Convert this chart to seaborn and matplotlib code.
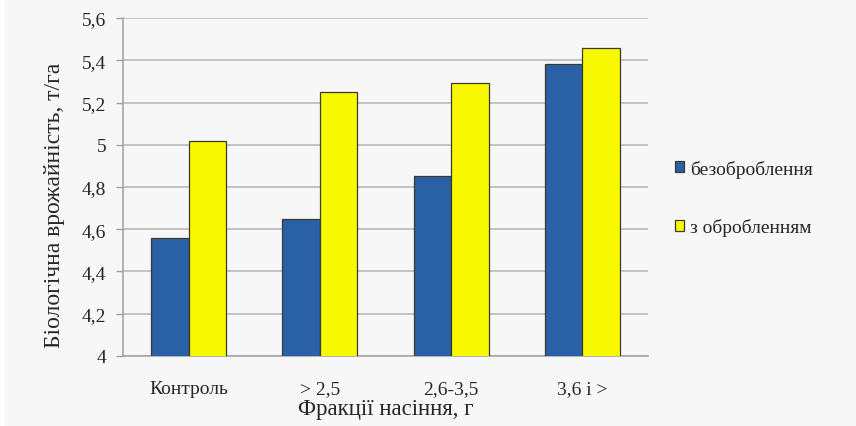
import matplotlib
matplotlib.use("Agg")
import matplotlib.pyplot as plt
from matplotlib.patches import Rectangle
import pandas as pd
import seaborn as sns

categories = ["Контроль", "> 2,5", "2,6-3,5", "3,6 і >"]
series_names = ["безоброблення", "з обробленням"]
untreated = [4.56, 4.65, 4.85, 5.38]
treated = [5.02, 5.25, 5.29, 5.46]
y_ticks = [4.0, 4.2, 4.4, 4.6, 4.8, 5.0, 5.2, 5.4, 5.6]
y_tick_labels = ["4", "4,2", "4,4", "4,6", "4,8", "5", "5,2", "5,4", "5,6"]

df = pd.DataFrame({
    "fraction": categories * 2,
    "series": [series_names[0]] * 4 + [series_names[1]] * 4,
    "yield": untreated + treated,
})

sns.set_style("white")
plt.rcParams["font.family"] = ["Liberation Serif", "DejaVu Serif"]

W, H = 856, 427
fig = plt.figure(figsize=(W / 100, H / 100), dpi=100)
fig.patch.set_facecolor("white")
fig.patches.append(Rectangle((5 / W, 0), (W - 5) / W, 1,
                             transform=fig.transFigure, facecolor="#f7f7f7",
                             edgecolor="none", zorder=-10))

ax = fig.add_axes([123 / W, (H - 357) / H, (648 - 123) / W, (357 - 19) / H])
ax.set_facecolor("#f7f7f7")

palette = {series_names[0]: "#2a60a6", series_names[1]: "#f8f800"}
sns.barplot(data=df, x="fraction", y="yield", hue="series", order=categories,
            hue_order=series_names, palette=palette, width=0.57, gap=0,
            edgecolor="#3a3a2a", linewidth=0.9, saturation=1, ax=ax, zorder=3)

ax.set_ylim(4.0, 5.6)
ax.set_xlim(-0.5, 3.5)
ax.set_yticks(y_ticks)
ax.set_yticklabels(y_tick_labels, fontsize=14)
ax.yaxis.grid(True, color="#b4b4b4", linewidth=1.1, zorder=0)
ax.set_axisbelow(True)

ax.set_xticks(range(len(categories)))
ax.set_xticklabels(categories, fontsize=14)
ax.set_xticks([-0.5, 0.5, 1.5, 2.5, 3.5], minor=True)
ax.tick_params(axis="x", which="major", length=0, pad=17)
ax.tick_params(axis="x", which="minor", length=5, color="#a0a0a0", width=1)
ax.tick_params(axis="y", length=5, color="#a0a0a0", width=1, pad=7, left=True)

for side in ("top", "right"):
    ax.spines[side].set_visible(False)
for side in ("left", "bottom"):
    ax.spines[side].set_color("#a0a0a0")
    ax.spines[side].set_linewidth(1.1)

ax.set_xlabel("Фракції насіння, г", fontsize=16.5, va="center")
ax.xaxis.set_label_coords(385.5 / W, (H - 410) / H, transform=fig.transFigure)
ax.set_ylabel("Біологічна врожайність, т/га", fontsize=17, va="center")
ax.yaxis.set_label_coords(55 / W, (H - 205) / H, transform=fig.transFigure)

handles, labels = ax.get_legend_handles_labels()
ax.legend(handles, labels, loc="center left", bbox_to_anchor=(657 / W, (H - 199) / H),
          bbox_transform=fig.transFigure, frameon=False, fontsize=14,
          handlelength=0.5, handleheight=0.5, handletextpad=0.3, labelspacing=2.1)

fig.savefig("out.png", dpi=100, facecolor=fig.get_facecolor())
